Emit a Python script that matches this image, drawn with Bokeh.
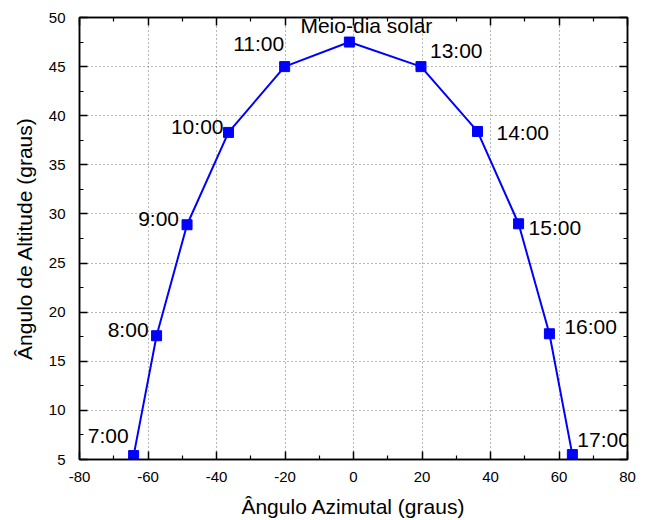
from bokeh.plotting import figure
from bokeh.models import LinearAxis, Range1d, FixedTicker, ColumnDataSource
from bokeh.embed import file_html
from bokeh.resources import INLINE
from bokeh.core.properties import value

# Data
hours = ["7:00", "8:00", "9:00", "10:00", "11:00", "Meio-dia solar",
         "13:00", "14:00", "15:00", "16:00", "17:00"]
azimuth = [-64.2, -57.5, -48.6, -36.5, -20.1, -1.2, 19.7, 36.2, 48.2, 57.2, 63.9]
altitude = [5.4, 17.6, 28.9, 38.3, 45.0, 47.5, 45.0, 38.4, 29.0, 17.8, 5.5]
x_ticks = [-80, -60, -40, -20, 0, 20, 40, 60, 80]
x_minor = [-70, -50, -30, -10, 10, 30, 50, 70]
y_ticks = [5, 10, 15, 20, 25, 30, 35, 40, 45, 50]
y_minor = [7.5, 12.5, 17.5, 22.5, 27.5, 32.5, 37.5, 42.5, 47.5]

# label styling (pixel offsets from the point / alignment)
lab_dx = [-5, -8, -8, -5, -26, 17, 9, 19, 10, 15, 5]
lab_dy = [-20, -6, -6, -6, -23, -17, -16, 1, 4, -7, -15]
lab_align = ["right", "right", "right", "right", "center", "center",
             "left", "left", "left", "left", "left"]

FONT = "Liberation Sans"

p = figure(width=649, height=520, output_backend="svg", toolbar_location=None,
           x_range=Range1d(-80, 80), y_range=Range1d(5, 50),
           min_border_left=79, min_border_right=22, min_border_top=17,
           min_border_bottom=60)

p.outline_line_color = "black"
p.outline_line_width = 1.5

for ax in (p.xaxis[0], p.yaxis[0]):
    ax.axis_line_width = 1.5
    ax.major_tick_in = 8
    ax.major_tick_out = 0
    ax.minor_tick_in = 4
    ax.minor_tick_out = 0
    ax.major_tick_line_width = 1.5
    ax.minor_tick_line_width = 1.2
    ax.major_label_text_font = FONT
    ax.major_label_text_font_size = "15px"
    ax.major_label_text_color = "black"
    ax.axis_label_text_font = FONT
    ax.axis_label_text_font_size = "21px"
    ax.axis_label_text_font_style = "normal"
    ax.axis_label_text_color = "black"

p.xaxis[0].ticker = FixedTicker(ticks=x_ticks, minor_ticks=x_minor)
p.xaxis[0].major_label_overrides = {t: str(t) for t in x_ticks}
p.yaxis[0].ticker = FixedTicker(ticks=y_ticks, minor_ticks=y_minor)
p.xaxis[0].axis_label = "Ângulo Azimutal (graus)"
p.yaxis[0].axis_label = "Ângulo de Altitude (graus)"
p.xaxis[0].major_label_standoff = 12
p.yaxis[0].major_label_standoff = 14
p.xaxis[0].axis_label_standoff = 10
p.yaxis[0].axis_label_standoff = 10

for loc, tk, mn in (("above", x_ticks, x_minor), ("right", y_ticks, y_minor)):
    ax = LinearAxis(
        ticker=FixedTicker(ticks=tk, minor_ticks=mn),
        major_tick_in=8, major_tick_out=0, minor_tick_in=4, minor_tick_out=0,
        axis_line_width=1.5, major_tick_line_width=1.5, minor_tick_line_width=1.2,
        major_label_overrides={t: "" for t in tk}, major_label_standoff=0,
        major_label_text_font_size="1px")
    p.add_layout(ax, loc)

p.xgrid.ticker = FixedTicker(ticks=x_ticks)
p.ygrid.ticker = FixedTicker(ticks=y_ticks)
for g in (p.xgrid[0], p.ygrid[0]):
    g.grid_line_color = "#707070"
    g.grid_line_dash = "1 3"
    g.grid_line_width = 1

src = ColumnDataSource(dict(x=azimuth, y=altitude, t=hours,
                            dx=lab_dx, dy=lab_dy, al=lab_align))
p.line("x", "y", source=src, line_color="#0000FF", line_width=2)
p.scatter("x", "y", source=src, marker="square", size=10,
          fill_color="#0000FF", line_color="#0000FF")
p.text("x", "y", text="t", source=src, x_offset="dx", y_offset="dy",
       text_align="al", text_baseline="alphabetic",
       text_font=value(FONT), text_font_size="21px", text_color="black")

open("out.html", "w").write(file_html(p, INLINE))
